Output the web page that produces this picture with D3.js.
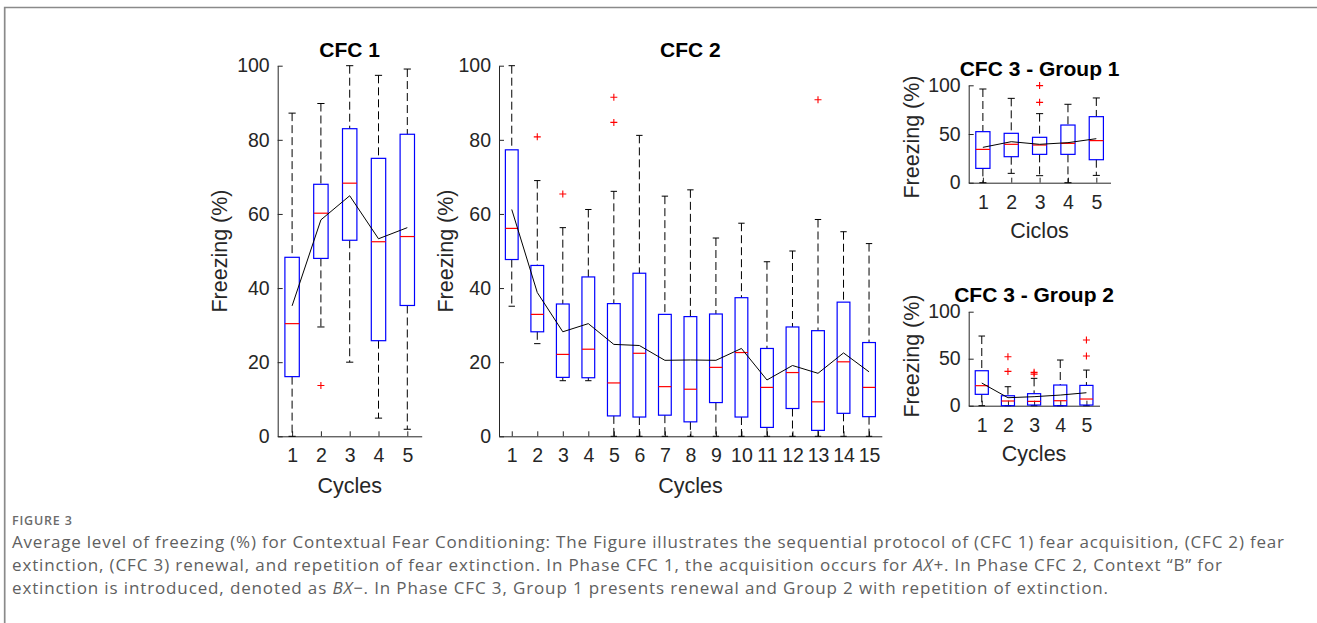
<!DOCTYPE html>
<html><head><meta charset="utf-8">
<script src="https://cdn.jsdelivr.net/npm/d3@7"></script>
<style>
html,body{margin:0;padding:0;background:#fff;}
svg{display:block;}
</style></head><body>
<svg id="chart" width="1317" height="623"></svg>
<script>
// ---------- DATA ----------
// CFC 1 (fear acquisition)
const cfc1Cycles = [1, 2, 3, 4, 5];
const cfc1Low    = [0, 29.5, 20.0, 4.9, 1.9];
const cfc1Q1     = [16.1, 48.0, 52.9, 25.8, 35.3];
const cfc1Median = [30.4, 60.2, 68.3, 52.5, 53.9];
const cfc1Q3     = [48.3, 68.0, 83.0, 75.0, 81.5];
const cfc1High   = [87.2, 89.8, 100, 97.4, 99.1];
const cfc1Mean   = [35.2, 58.4, 64.9, 53.3, 56.3];
const cfc1Outliers = [[2, 13.7]];

// CFC 2 (fear extinction)
const cfc2Cycles = [1, 2, 3, 4, 5, 6, 7, 8, 9, 10, 11, 12, 13, 14, 15];
const cfc2Low    = [35.1, 25.0, 15.0, 15.0, 0, 0, 0, 0, 0, 0, 0, 0, 0, 0, 0];
const cfc2Q1     = [47.7, 28.2, 15.9, 15.8, 5.5, 5.2, 5.7, 3.9, 9.1, 5.2, 2.4, 7.5, 1.6, 6.2, 5.3];
const cfc2Median = [56.1, 32.9, 22.1, 23.5, 14.4, 22.4, 13.4, 12.7, 18.6, 22.6, 13.2, 17.2, 9.3, 20.1, 13.2];
const cfc2Q3     = [77.3, 46.1, 35.7, 43.0, 35.8, 44.0, 32.9, 32.3, 33.0, 37.4, 23.7, 29.5, 28.5, 36.2, 25.3];
const cfc2High   = [100, 69.0, 56.3, 61.2, 66.1, 81.2, 64.8, 66.5, 53.5, 57.5, 47.1, 50.0, 58.5, 55.2, 52.0];
const cfc2Mean   = [61.2, 38.8, 28.2, 30.4, 24.8, 24.5, 20.5, 20.6, 20.5, 23.7, 15.2, 19.1, 17.0, 22.5, 17.4];
const cfc2Outliers = [[2, 80.8], [3, 65.4], [5, 91.5], [5, 84.7], [13, 90.8]];

// CFC 3 - Group 1 (renewal)
const g1Cycles = [1, 2, 3, 4, 5];
const g1Low    = [0, 9.6, 7.2, 0, 7.5];
const g1Q1     = [14.7, 26.7, 29.1, 29.1, 23.6];
const g1Median = [34.2, 39.4, 38.7, 40.4, 43.2];
const g1Q3     = [52.4, 50.7, 46.6, 59.2, 67.8];
const g1High   = [96.2, 86.6, 70.9, 80.5, 87.0];
const g1Mean   = [36.3, 42.1, 39.4, 41.1, 45.2];
const g1Outliers = [[3, 99.7], [3, 82.5]];

// CFC 3 - Group 2 (repetition of extinction)
const g2Cycles = [1, 2, 3, 4, 5];
const g2Low    = [0, 0, 0, 0, 0];
const g2Q1     = [12.1, 0, 0.7, 0, 0.7];
const g2Median = [21.3, 5.0, 4.6, 5.3, 7.1];
const g2Q3     = [37.2, 10.6, 12.8, 22.0, 21.6];
const g2High   = [74.1, 20.2, 29.1, 48.6, 37.9];
const g2Mean   = [24.1, 8.5, 9.6, 11.3, 13.8];
const g2Outliers = [[2, 52.1], [2, 36.5], [3, 35.5], [3, 33.6], [5, 69.9], [5, 52.8]];

const bigTicks = [0, 20, 40, 60, 80, 100];
const smallTicks = [0, 50, 100];

const captionHead = "FIGURE 3";
const captionLines = [
  [["Average level of freezing (%) for Contextual Fear Conditioning: The Figure illustrates the sequential protocol of (CFC 1) fear acquisition, (CFC 2) fear", false]],
  [["extinction, (CFC 3) renewal, and repetition of fear extinction. In Phase CFC 1, the acquisition occurs for ", false], ["AX+", true], [". In Phase CFC 2, Context \u201CB\u201D for", false]],
  [["extinction is introduced, denoted as ", false], ["BX\u2212", true], [". In Phase CFC 3, Group 1 presents renewal and Group 2 with repetition of extinction.", false]]
];

// ---------- DRAW ----------
const svg = d3.select("#chart");
svg.append("rect").attr("width", 1317).attr("height", 623).attr("fill", "#fff");

// frame
svg.append("path").attr("d", "M4.7,623 V7.5 H1317")
  .attr("fill", "none").attr("stroke", "#8a8a8a").attr("stroke-width", 1.7);

const FONT = "'Liberation Sans', Arial, Helvetica, sans-serif";
const AX = "#262626";

function drawPanel(p) {
  const g = svg.append("g");
  const n = p.cycles.length;
  const x = d3.scaleLinear().domain([0.5, n + 0.5]).range([p.x0, p.x1]);
  const y = d3.scaleLinear().domain([0, 100]).range([p.yBot, p.yTop]);

  const xa = g.append("g").attr("transform", `translate(0,${p.yBot})`)
    .call(d3.axisBottom(x).tickValues(p.cycles).tickFormat(d3.format("d"))
      .tickSizeInner(-5).tickSizeOuter(0).tickPadding(12));
  const ya = g.append("g").attr("transform", `translate(${p.x0},0)`)
    .call(d3.axisLeft(y).tickValues(p.yTicks).tickSizeInner(-5).tickSizeOuter(0).tickPadding(8));
  [xa, ya].forEach(a => {
    a.selectAll(".domain").attr("stroke", AX).attr("stroke-width", 1);
    a.selectAll(".tick line").attr("stroke", AX).attr("stroke-width", 1);
    a.selectAll(".tick text").attr("fill", AX).style("font-family", FONT).style("font-size", "19.5px");
  });

  const halfBox = (x(1.25) - x(1));
  const halfCap = (x(1.125) - x(1));
  const boxes = g.append("g");
  p.cycles.forEach((c, i) => {
    const cx = x(c);
    // whiskers (dashed)
    boxes.append("line").attr("x1", cx).attr("x2", cx)
      .attr("y1", y(p.high[i])).attr("y2", y(p.q3[i]))
      .attr("stroke", "#000").attr("stroke-width", 1).attr("stroke-dasharray", "8,4");
    boxes.append("line").attr("x1", cx).attr("x2", cx)
      .attr("y1", y(p.q1[i])).attr("y2", y(p.low[i]))
      .attr("stroke", "#000").attr("stroke-width", 1).attr("stroke-dasharray", "8,4");
    // caps
    [p.high[i], p.low[i]].forEach(v => {
      boxes.append("line").attr("x1", cx - halfCap).attr("x2", cx + halfCap)
        .attr("y1", y(v)).attr("y2", y(v)).attr("stroke", "#000").attr("stroke-width", 1);
    });
    // box
    boxes.append("rect").attr("x", cx - halfBox).attr("width", 2 * halfBox)
      .attr("y", y(p.q3[i])).attr("height", y(p.q1[i]) - y(p.q3[i]))
      .attr("fill", "none").attr("stroke", "#0000ff").attr("stroke-width", 1.2);
    // median
    boxes.append("line").attr("x1", cx - halfBox).attr("x2", cx + halfBox)
      .attr("y1", y(p.median[i])).attr("y2", y(p.median[i]))
      .attr("stroke", "#ff0000").attr("stroke-width", 1.2);
  });
  // outliers
  const s = 3.5;
  g.append("g").selectAll("path").data(p.outliers).join("path")
    .attr("d", d => {
      const px = x(d[0]), py = y(d[1]);
      return `M${px - s},${py}H${px + s}M${px},${py - s}V${py + s}`;
    })
    .attr("stroke", "#ff0000").attr("stroke-width", 1.1).attr("fill", "none");
  // mean line
  const line = d3.line().x((d, i) => x(p.cycles[i])).y(d => y(d));
  g.append("path").datum(p.mean).attr("d", line)
    .attr("fill", "none").attr("stroke", "#000").attr("stroke-width", 1);

  // title
  g.append("text").attr("x", (p.x0 + p.x1) / 2).attr("y", p.titleY)
    .attr("text-anchor", "middle").style("font-family", FONT).style("font-size", "21px")
    .style("font-weight", "bold").attr("fill", "#000").text(p.title);
  // x label
  g.append("text").attr("x", (p.x0 + p.x1) / 2).attr("y", p.xLabelY)
    .attr("text-anchor", "middle").style("font-family", FONT).style("font-size", "21.5px")
    .attr("fill", AX).text(p.xLabel);
  // y label
  g.append("text").attr("transform", `translate(${p.yLabelX},${p.yLabelCY}) rotate(-90)`)
    .attr("text-anchor", "middle").style("font-family", FONT).style("font-size", "21.5px")
    .attr("fill", AX).text("Freezing (%)");
}

drawPanel({
  cycles: cfc1Cycles, low: cfc1Low, q1: cfc1Q1, median: cfc1Median, q3: cfc1Q3, high: cfc1High,
  mean: cfc1Mean, outliers: cfc1Outliers, yTicks: bigTicks,
  x0: 277.7, x1: 421.7, yTop: 65.7, yBot: 436.3,
  title: "CFC 1", titleY: 57, xLabelY: 492.5, xLabel: "Cycles", yLabelX: 227, yLabelCY: 251
});
drawPanel({
  cycles: cfc2Cycles, low: cfc2Low, q1: cfc2Q1, median: cfc2Median, q3: cfc2Q3, high: cfc2High,
  mean: cfc2Mean, outliers: cfc2Outliers, yTicks: bigTicks,
  x0: 499, x1: 881.8, yTop: 65.7, yBot: 436.3,
  title: "CFC 2", titleY: 57, xLabelY: 492.5, xLabel: "Cycles", yLabelX: 453, yLabelCY: 251
});
drawPanel({
  cycles: g1Cycles, low: g1Low, q1: g1Q1, median: g1Median, q3: g1Q3, high: g1High,
  mean: g1Mean, outliers: g1Outliers, yTicks: smallTicks,
  x0: 968.7, x1: 1110.5, yTop: 85.3, yBot: 182.7,
  title: "CFC 3 - Group 1", titleY: 75.7, xLabel: "Ciclos", xLabelY: 238, yLabelX: 919, yLabelCY: 137
});
drawPanel({
  cycles: g2Cycles, low: g2Low, q1: g2Q1, median: g2Median, q3: g2Q3, high: g2High,
  mean: g2Mean, outliers: g2Outliers, yTicks: smallTicks,
  x0: 968.7, x1: 1099.5, yTop: 311.7, yBot: 405.7,
  title: "CFC 3 - Group 2", titleY: 301.7, xLabel: "Cycles", xLabelY: 461, yLabelX: 919, yLabelCY: 356
});

// caption
const CAP_FONT = "'Open Sans', 'Noto Sans', sans-serif";
svg.append("text").attr("x", 12).attr("y", 525).style("font-family", CAP_FONT)
  .style("font-size", "12.5px").style("font-weight", "600").style("letter-spacing", "0.8px")
  .attr("fill", "#6b6b6b").text(captionHead);
const capLineYs = [547.5, 570.5, 593.5];
const capLineWidths = [1272, 1210, 1096];
captionLines.forEach((segs, li) => {
  const t = svg.append("text").attr("x", 12).attr("y", capLineYs[li])
    .attr("textLength", capLineWidths[li]).attr("lengthAdjust", "spacing")
    .style("font-family", CAP_FONT).style("font-size", "17px").attr("fill", "#5f5f5f");
  segs.forEach(([txt, it]) => {
    const ts = t.append("tspan").text(txt);
    if (it) ts.style("font-style", "italic");
  });
});
</script>
</body></html>
